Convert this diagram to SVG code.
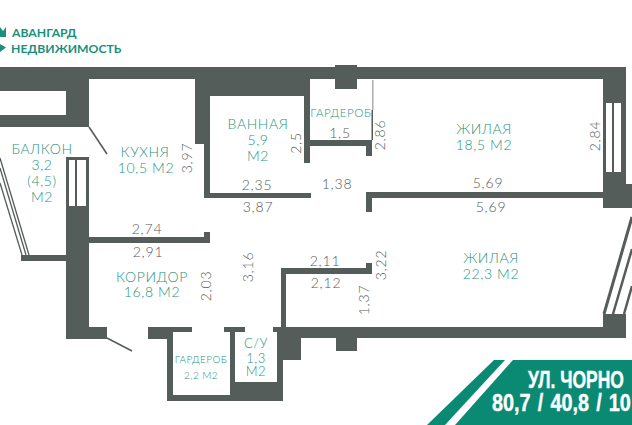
<svg xmlns="http://www.w3.org/2000/svg" width="632" height="425" viewBox="0 0 632 425">
<style>
.w{fill:#555d5a}
.h{fill:#fff}
.l{stroke:#555d5a;fill:none}
text{font-family:"Lato","Open Sans","Liberation Sans",sans-serif;font-weight:300}
.t{fill:#1c9480;font-size:14px;text-anchor:middle;letter-spacing:.6px}
.s{fill:#1c9480;font-size:10px;text-anchor:middle;letter-spacing:.4px}
.d{fill:#555a58;font-size:14px;text-anchor:middle;letter-spacing:.8px}
.b{fill:#fff;stroke:#fff;stroke-width:.4px;font-family:"Liberation Sans",sans-serif;font-weight:700;font-size:23.300px}
.g{fill:#1b8f7c;font-family:"Lato","Open Sans",sans-serif;font-weight:700;font-size:12.200px}
</style>
<rect width="632" height="425" fill="#fff"/>
<g id="logo">
<path d="M0 27 L3 31 L6 27 V37 H0Z" fill="#1b8f7c"/>
<path d="M0 44 L6 47.500 L0 52Z" fill="#1b8f7c"/>
<text class="g" x="12" y="36.500">АВАНГАРД</text>
<text class="g" x="11" y="52.500">НЕДВИЖИМОСТЬ</text>
</g>
<g id="walls">
<rect class="w" x="0" y="67" width="626" height="12"/>
<rect class="w" x="0" y="79" width="89" height="48"/>
<rect class="h" x="0" y="91" width="66" height="24"/>
<rect class="w" x="335" y="65" width="22" height="24"/>
<rect class="w" x="195" y="79" width="115" height="17"/>
<rect class="w" x="195" y="96" width="15" height="48"/>
<rect class="w" x="204" y="144" width="6" height="54"/>
<rect class="w" x="204" y="193" width="107" height="5"/>
<rect class="w" x="304" y="96" width="6" height="67"/>
<rect class="w" x="310" y="140" width="62" height="6"/>
<rect class="w" x="366" y="146" width="6" height="10"/>
<rect x="372" y="80" width="1.500" height="30" fill="#aaaeac"/>
<rect x="371.500" y="110" width="1.500" height="30" fill="#555d5a"/>
<rect class="w" x="366" y="192" width="237" height="6"/>
<rect class="w" x="366" y="198" width="6" height="14"/>
<rect class="w" x="603" y="79" width="23" height="105"/>
<rect class="w" x="603" y="184" width="29" height="24"/>
<rect class="h" x="606" y="103" width="6" height="69"/>
<rect class="h" x="614" y="103" width="7" height="69"/>
<rect class="w" x="66" y="157" width="23" height="182"/>
<rect class="h" x="69" y="160" width="6" height="46"/>
<rect class="h" x="77" y="160" width="9" height="46"/>
<rect class="w" x="21" y="255" width="45" height="6"/>
<rect class="w" x="89" y="237" width="121" height="6"/>
<rect class="w" x="204" y="232" width="6" height="11"/>
<rect class="w" x="66" y="327" width="41" height="12"/>
<rect class="w" x="148" y="327" width="44" height="5"/>
<rect class="w" x="148" y="332" width="25" height="7"/>
<rect class="w" x="167" y="339" width="6" height="62"/>
<rect class="w" x="167" y="395" width="116" height="6"/>
<rect class="w" x="224" y="327" width="21" height="5"/>
<rect class="w" x="230" y="332" width="5" height="69"/>
<rect class="w" x="235" y="382" width="48" height="19"/>
<path class="w" d="M273 327 H626 V338 H357 V351 H336 V338 H301 V360 H283 V382 H277 V332 H273Z"/>
<rect class="w" x="603" y="314" width="23" height="13"/>
<rect class="w" x="281" y="268" width="91" height="6"/>
<rect class="w" x="281" y="274" width="5" height="53"/>
<rect class="w" x="366" y="263" width="6" height="11"/>
</g>
<g id="connectors">
<path class="l" stroke-width="1.600" d="M89 127 L107 154"/>
<path class="l" stroke-width="1.600" d="M107 338 L132 351"/>
<path class="l" stroke-width="1.300" d="M0 158 L29 255"/>
<path class="l" stroke-width="1.300" d="M0 168 L26 255"/>
<path class="l" stroke-width="1.300" d="M0 183 L22 255"/>
<path class="l" stroke-width="3" d="M604 314 L632 217"/>
<path class="l" stroke-width="2.500" d="M613 314 L632 249"/>
<path class="l" stroke-width="2.500" d="M624 314 L632 286"/>
</g>
<g id="rooms">
<text class="t" x="42" y="154">БАЛКОН</text>
<text class="t" x="42" y="170">3,2</text>
<text class="t" x="42" y="186">(4,5)</text>
<text class="t" x="42" y="202">М2</text>
<text class="t" x="145" y="157">КУХНЯ</text>
<text class="t" x="146" y="173">10,5 М2</text>
<text class="t" x="258" y="129">ВАННАЯ</text>
<text class="t" x="258" y="145">5,9</text>
<text class="t" x="258" y="161">М2</text>
<text class="t" x="341" y="117" style="font-size:11.500px">ГАРДЕРОБ</text>
<text class="t" x="484" y="134">ЖИЛАЯ</text>
<text class="t" x="484" y="150">18,5 М2</text>
<text class="t" x="152" y="282">КОРИДОР</text>
<text class="t" x="152" y="297">16,8 М2</text>
<text class="t" x="491" y="263">ЖИЛАЯ</text>
<text class="t" x="491" y="279">22,3 М2</text>
<text class="s" x="201" y="363">ГАРДЕРОБ</text>
<text class="s" x="201" y="379">2,2 М2</text>
<text class="t" x="256" y="348" style="font-size:13px">С/У</text>
<text class="t" x="256" y="363" style="font-size:13px">1,3</text>
<text class="t" x="256" y="376" style="font-size:13px">М2</text>
</g>
<g id="dimensions">
<text class="d" transform="translate(192 158) rotate(-90)">3,97</text>
<text class="d" transform="translate(301 143) rotate(-90)">2,5</text>
<text class="d" x="340" y="138">1,5</text>
<text class="d" transform="translate(385 135) rotate(-90)">2,86</text>
<text class="d" transform="translate(600 136) rotate(-90)">2,84</text>
<text class="d" x="488" y="188">5,69</text>
<text class="d" x="491" y="212">5,69</text>
<text class="d" x="257" y="190">2,35</text>
<text class="d" x="337" y="189">1,38</text>
<text class="d" x="258" y="212">3,87</text>
<text class="d" x="147" y="234">2,74</text>
<text class="d" x="148" y="257">2,91</text>
<text class="d" transform="translate(211 286) rotate(-90)">2,03</text>
<text class="d" transform="translate(253 267) rotate(-90)">3,16</text>
<text class="d" x="325" y="266">2,11</text>
<text class="d" x="326" y="288">2,12</text>
<text class="d" transform="translate(386 265) rotate(-90)">3,22</text>
<text class="d" transform="translate(369 300) rotate(-90)">1,37</text>
</g>
<g id="banner">
<path d="M494 360 H632 V425 H427Z" fill="#0b8a73"/>
<path d="M505 360 H513 L455 425 H445Z" fill="#fff"/>
<text class="b" transform="translate(528 388) scale(.75 1)">УЛ. ЧОРНО</text>
<text class="b" transform="translate(492 411) scale(.85 1)" style="word-spacing:2px">80,7 / 40,8 / 10</text>
</g>
</svg>
